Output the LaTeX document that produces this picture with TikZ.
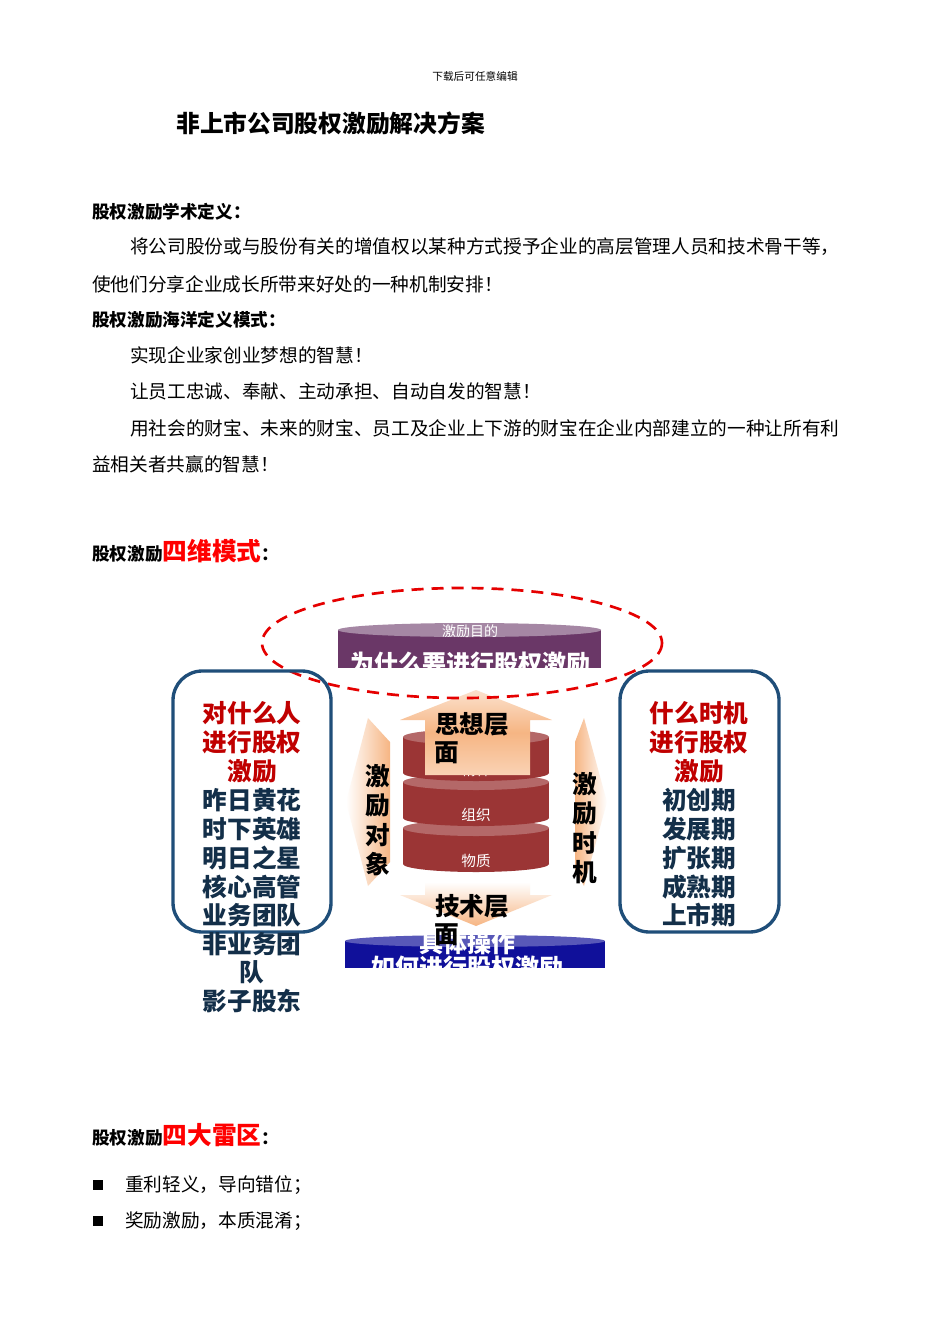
\documentclass[tikz,border=0pt]{standalone}
\usepackage{fontspec}
\setmainfont{Noto Sans CJK SC}
\usetikzlibrary{shapes.geometric}
\definecolor{dred}{HTML}{C00000}
\definecolor{bbox}{HTML}{1F4E79}
\definecolor{cylred}{HTML}{9B3535}
\definecolor{cylpur}{HTML}{6A3767}
\definecolor{cylblue}{HTML}{10109A}
\definecolor{arrO}{HTML}{F6B583}
\tikzset{
 body/.style={anchor=west,font=\fontsize{14}{14}\selectfont,inner sep=0},
 head/.style={anchor=west,font=\fontsize{13.2}{14}\selectfont\bfseries,inner sep=0},
 big/.style={font=\fontsize{18.5}{19}\selectfont\bfseries,inner sep=0},
 wt/.style={text=white,inner sep=0},
 rbox/.style={draw=bbox,line width=2.5pt,rounded corners=22pt},
}
\begin{document}
\begin{tikzpicture}[x=0.75pt,y=-0.75pt]
\useasboundingbox[fill=white] (0,0) rectangle (950,1344);
\node[inner sep=0,font=\fontsize{8}{8}\selectfont] (hd) at (475,76) {下载后可任意编辑};
\node[head,font=\fontsize{17.8}{18}\selectfont\bfseries] (tt) at (176,123) {非上市公司股权激励解决方案};
\node[head] (h1) at (92,212) {股权激励学术定义：};
\node[body] (p1) at (130,247) {将公司股份或与股份有关的增值权以某种方式授予企业的高层管理人员和技术骨干等，};
\node[body] (p2) at (92,284) {使他们分享企业成长所带来好处的一种机制安排！};
\node[head] (h2) at (92,320) {股权激励海洋定义模式：};
\node[body] (p3) at (130,355) {实现企业家创业梦想的智慧！};
\node[body] (p4) at (130,391) {让员工忠诚、奉献、主动承担、自动自发的智慧！};
\node[body] (p5) at (130,428) {用社会的财宝、未来的财宝、员工及企业上下游的财宝在企业内部建立的一种让所有利};
\node[body] (p6) at (92,464) {益相关者共赢的智慧！};
\node[head] (h3) at (92,551) {股权激励{\color{red}\fontsize{18.5}{18}\selectfont 四维模式}：};
\node[head] (h4) at (92,1135) {股权激励{\color{red}\fontsize{18.5}{18}\selectfont 四大雷区}：};
\fill (93,1180) rectangle (103,1190);
\fill (93,1216) rectangle (103,1226);
\node[body] (b1) at (125,1185) {重利轻义，导向错位；};
\node[body] (b2) at (125,1221) {奖励激励，本质混淆；};
% top purple cylinder
\begin{scope}
\clip (336,620) rectangle (603,668);
\fill[cylpur] (338,630) rectangle (601,668);
\fill[cylpur!60!white] (469.5,630) ellipse[x radius=131.5,y radius=7];
\node[wt,font=\fontsize{10.5}{10}\selectfont] (g1) at (470,631) {激励目的};
\node[wt,font=\fontsize{18}{17}\selectfont\bfseries] (g2) at (470,664) {为什么要进行股权激励};
\end{scope}
% red cylinders
\foreach \t/\lab in {828/物质,782/组织,737/精神}{
 \fill[cylred] (403,\t) rectangle (549,\t+36);
 \fill[cylred] (476,\t+36) ellipse[x radius=73,y radius=8];
 \fill[cylred!75!white] (476,\t) ellipse[x radius=73,y radius=8];
 \node[wt,font=\fontsize{11}{11}\selectfont] at (476,\t+33) {\lab};
}
% up arrow
\shade[top color=arrO!40!white,bottom color=arrO!60!white,middle color=arrO]
 (425,775) -- (425,720) -- (400,720) -- (476,690) -- (552,720) -- (530,720) -- (530,775) -- cycle;
\node[big] (u1) at (472,724) {思想层};
\node[big] (u2) at (447,753) {面};
% down arrow
\shade[top color=white,bottom color=arrO]
 (425,882) -- (530,882) -- (530,895) -- (552,895) -- (476,926) -- (400,895) -- (425,895) -- cycle;
% side arrows
\shade[left color=white,right color=arrO]
 (368,718) -- (390,742) -- (390,862) -- (368,886) -- (346,802) -- cycle;
\shade[left color=arrO,right color=white]
 (584,718) -- (607,802) -- (584,886) -- (575,870) -- (575,742) -- cycle;
\foreach \c/\y in {激/776,励/805,对/835,象/864}{\node[big] at (378,\y) {\c};}
\foreach \c/\y in {激/784,励/813,时/843,机/872}{\node[big] at (585,\y) {\c};}
% bottom blue cylinder
\begin{scope}
\clip (340,925) rectangle (610,968);
\fill[cylblue] (345,941) rectangle (605,968);
\fill[cylblue!70!white] (475,941) ellipse[x radius=130,y radius=6];
\node[wt,font=\fontsize{18}{17}\selectfont\bfseries] (k2) at (467,967) {如何进行股权激励};
\end{scope}
\node[wt,font=\fontsize{18}{17}\selectfont\bfseries] (k1) at (467,943) {具体操作};
\node[big] (d1) at (472,906) {技术层};
\node[big] (d2) at (447,935) {面};
% ellipse
\draw[red!90!black,line width=2pt,dash pattern=on 9pt off 6pt] (462,643) ellipse[x radius=200,y radius=55];
% boxes
\draw[rbox] (173,671) rectangle (331,932);
\draw[rbox] (620,671) rectangle (779,932);
\foreach \s/\y/\c in {对什么人/713/dred,进行股权/742/dred,激励/771/dred,昨日黄花/800/bbox!60!black,时下英雄/829/bbox!60!black,明日之星/858/bbox!60!black,核心高管/887/bbox!60!black,业务团队/915/bbox!60!black,非业务团/944/bbox!60!black,队/972/bbox!60!black,影子股东/1001/bbox!60!black}{\node[big,text=\c] at (252,\y) {\s};}
\foreach \s/\y/\c in {什么时机/713/dred,进行股权/742/dred,激励/771/dred,初创期/800/bbox!60!black,发展期/829/bbox!60!black,扩张期/858/bbox!60!black,成熟期/887/bbox!60!black,上市期/915/bbox!60!black}{\node[big,text=\c] at (699,\y) {\s};}
\end{tikzpicture}
\end{document}
